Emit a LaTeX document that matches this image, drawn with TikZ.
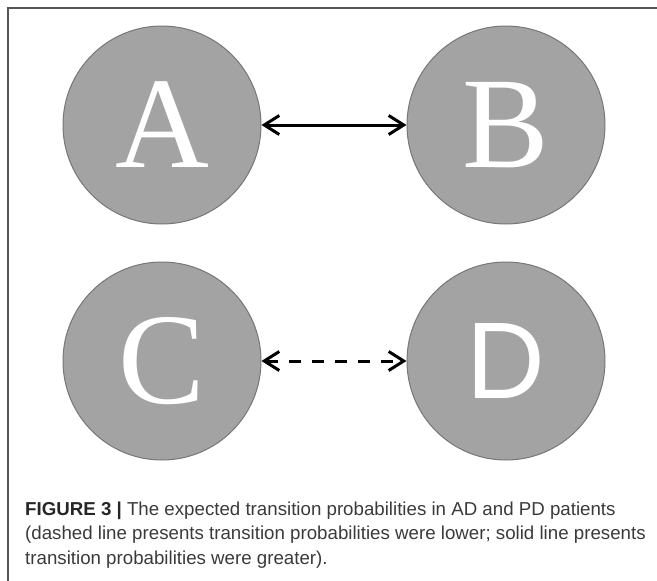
\documentclass[tikz,border=0pt]{standalone}
\usepackage{fontspec}
\usetikzlibrary{arrows.meta}
\newfontfamily\capfont{Liberation Sans}
\newfontfamily\letserif{Liberation Serif}
\newfontfamily\letsans{Liberation Sans}
\definecolor{circfill}{HTML}{A3A3A3}
\definecolor{circline}{HTML}{777777}
\definecolor{captext}{HTML}{3A3A3A}
\definecolor{framecol}{HTML}{555555}
\tikzset{
  state/.style={circle, minimum size=198pt, inner sep=0pt, fill=circfill, draw=circline, line width=1pt, text=white},
  conn/.style={line width=3pt, {Straight Barb[length=15pt,width=19pt]}-{Straight Barb[length=15pt,width=19pt]}},
  capline/.style={anchor=base west, inner sep=0pt, text=captext, font=\capfont\fontsize{18.7}{24}\selectfont},
}
\begin{document}
\begin{tikzpicture}[x=1pt,y=-1pt]
\useasboundingbox (0,0) rectangle (657,581);
\draw[framecol, line width=1.2pt] (8,581) -- (8,8) -- (657,8);

\node[state, font=\letserif\fontsize{130}{130}\selectfont] (A) at (162,125) {\raisebox{-4pt}{A}};
\node[state, font=\letserif\fontsize{130}{130}\selectfont] (B) at (506,125) {\raisebox{-4pt}{B}};
\node[state, font=\letserif\fontsize{130}{130}\selectfont] (C) at (162,361) {\raisebox{-4pt}{C}};
\node[state, font=\letsans\fontsize{109}{109}\selectfont] (D) at (506,361) {\raisebox{-3pt}{D}};

\draw[conn] (A) -- (B);
\draw[conn, dash pattern=on 12pt off 11pt] (C) -- (D);

\node[capline] (cap1) at (25,515)
  {{\bfseries\color{black!85}FIGURE 3 |} The expected transition probabilities in AD and PD patients};
\node[capline] (cap2) at (25,539.5)
  {(dashed line presents transition probabilities were lower; solid line presents};
\node[capline] (cap3) at (25,564)
  {transition probabilities were greater).};
\end{tikzpicture}
\end{document}
